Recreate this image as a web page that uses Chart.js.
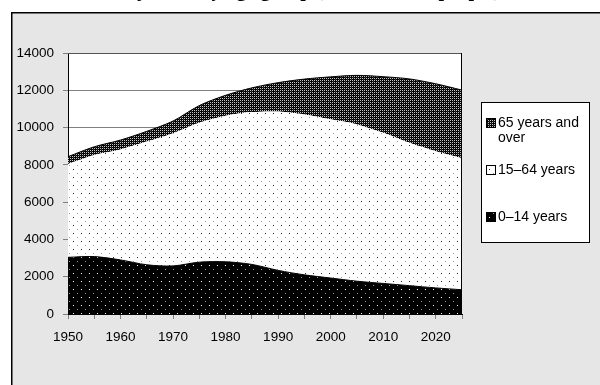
<!DOCTYPE html>
<html><head><meta charset="utf-8">
<script src="https://cdn.jsdelivr.net/npm/chart.js@4/dist/chart.umd.min.js"></script>
<style>html,body{margin:0;padding:0;background:#fff;}#wrap{width:600px;height:385px;position:relative;overflow:hidden;}</style>
</head><body><div id="wrap"><canvas id="c" width="600" height="385"></canvas></div>
<script>
// Population by age group, ten thousand people
const years = [1950, 1955, 1960, 1965, 1970, 1975, 1980, 1985, 1990, 1995, 2000, 2005, 2010, 2015, 2020, 2025];
const age0to14 = [3040, 3080, 2900, 2640, 2580, 2780, 2800, 2660, 2340, 2100, 1930, 1760, 1640, 1520, 1400, 1300];
const age15to64 = [5000, 5450, 5930, 6610, 7120, 7480, 7840, 8170, 8520, 8600, 8510, 8410, 8080, 7660, 7330, 7060];
const age65plus = [400, 440, 500, 550, 650, 920, 1090, 1300, 1550, 1900, 2280, 2630, 3010, 3430, 3620, 3650];
const yTickStep = 2000;
const xTickStep = 5;
const titleText = 'Projection by age group (ten thousand people)';
const legendLines = [['65 years and', 'over'], ['15\u201364 years'], ['0\u201314 years']];

const canvas = document.getElementById('c');
const ctx = canvas.getContext('2d');

function makePattern(bg, dots, size) {
  const t = document.createElement('canvas');
  t.width = size; t.height = size;
  const g = t.getContext('2d');
  g.fillStyle = bg; g.fillRect(0, 0, size, size);
  dots.forEach(([x, y, col]) => { g.fillStyle = col; g.fillRect(x, y, 1, 1); });
  return ctx.createPattern(t, 'repeat');
}
const patYoung = makePattern('#000', [[1, 1, '#fff'], [5, 5, '#9a9a9a']], 8);
const patWork = makePattern('#fff', [[1, 1, '#222'], [5, 5, '#999']], 8);
const patOld = makePattern('#000', [[0, 0, '#c8c8c8'], [2, 0, '#c8c8c8'], [0, 2, '#c8c8c8'], [2, 2, '#c8c8c8'], [1, 1, '#333'], [3, 3, '#333']], 4);

const pts = arr => years.map((yr, i) => ({ x: yr, y: arr[i] }));

const backdrop = {
  id: 'backdrop',
  beforeDraw(chart) {
    const c = chart.ctx, a = chart.chartArea;
    c.save();
    c.fillStyle = '#fff'; c.fillRect(0, 0, chart.width, chart.height);
    c.fillStyle = '#e6e6e6'; c.fillRect(11, 12, chart.width, chart.height);
    c.strokeStyle = '#000'; c.lineWidth = 1.5;
    c.beginPath(); c.moveTo(11.75, chart.height); c.lineTo(11.75, 12.75); c.lineTo(chart.width, 12.75); c.stroke();
    c.fillStyle = '#fff'; c.fillRect(a.left, a.top, a.right - a.left, a.bottom - a.top);
    c.restore();
  },
  afterDatasetsDraw(chart) {
    const c = chart.ctx, a = chart.chartArea;
    c.save();
    c.lineWidth = 1;
    c.strokeStyle = '#555';
    c.beginPath(); c.moveTo(a.left, a.top + 0.5); c.lineTo(a.right, a.top + 0.5); c.stroke();
    c.strokeStyle = '#000';
    c.beginPath(); c.moveTo(a.right - 0.5, a.top); c.lineTo(a.right - 0.5, a.bottom); c.stroke();
    c.restore();
  },
  afterDraw(chart) {
    const c = chart.ctx;
    c.save();
    // heading, sitting mostly above the top edge
    c.fillStyle = '#000';
    c.font = 'bold 20px "Liberation Serif"';
    c.textBaseline = 'alphabetic'; c.textAlign = 'left';
    c.fillText(titleText, 107, -4);
    // legend box
    c.fillStyle = '#fff'; c.fillRect(481, 102, 108, 140);
    c.strokeStyle = '#000'; c.lineWidth = 1; c.strokeRect(481.5, 102.5, 108, 140);
    const items = [
      { pat: patOld, lines: legendLines[0], y: 123 },
      { pat: patWork, lines: legendLines[1], y: 170 },
      { pat: patYoung, lines: legendLines[2], y: 217 }
    ];
    c.font = '14px "Liberation Sans"';
    c.textBaseline = 'middle';
    items.forEach(it => {
      c.fillStyle = it.pat; c.fillRect(486, it.y - 5, 10, 10);
      c.strokeStyle = '#000'; c.strokeRect(486.5, it.y - 4.5, 9, 9);
      c.fillStyle = '#000';
      it.lines.forEach((ln, k) => c.fillText(ln, 498, it.y + k * 15));
    });
    c.restore();
  }
};

new Chart(canvas, {
  type: 'line',
  data: {
    datasets: [
      { label: legendLines[2].join(' '), data: pts(age0to14), fill: 'origin', backgroundColor: patYoung, borderColor: '#000', borderWidth: 1, pointRadius: 0, tension: 0.3 },
      { label: legendLines[1].join(' '), data: pts(age15to64), fill: '-1', backgroundColor: patWork, borderColor: 'rgba(0,0,0,0)', borderWidth: 0, pointRadius: 0, tension: 0.3 },
      { label: legendLines[0].join(' '), data: pts(age65plus), fill: '-1', backgroundColor: patOld, borderColor: '#000', borderWidth: 1, pointRadius: 0, tension: 0.3 }
    ]
  },
  options: {
    responsive: false,
    devicePixelRatio: 1,
    animation: false,
    layout: { padding: { top: 53, right: 138, left: 0, bottom: 0 } },
    plugins: { legend: { display: false }, tooltip: { enabled: false }, title: { display: false } },
    scales: {
      x: {
        type: 'linear', min: 1950, max: 2025,
        afterFit: s => { s.height = 71; },
        ticks: {
          stepSize: xTickStep, autoSkip: false, maxRotation: 0, padding: 10,
          color: '#000', font: { family: '"Liberation Sans"', size: 13.5 },
          callback: v => (v % 10 === 0 ? String(v) : '')
        },
        grid: { drawOnChartArea: false, tickLength: 5, tickColor: '#808080' },
        border: { color: '#000', width: 1 }
      },
      y: {
        stacked: true, min: 0, max: 14000,
        afterFit: s => { s.width = 68; },
        ticks: { stepSize: yTickStep, padding: 9, color: '#000', font: { family: '"Liberation Sans"', size: 13.5 }, callback: v => String(v) },
        grid: { color: '#808080', tickLength: 5, tickColor: '#808080' },
        border: { color: '#000', width: 1 }
      }
    }
  },
  plugins: [backdrop]
});
</script></body></html>
